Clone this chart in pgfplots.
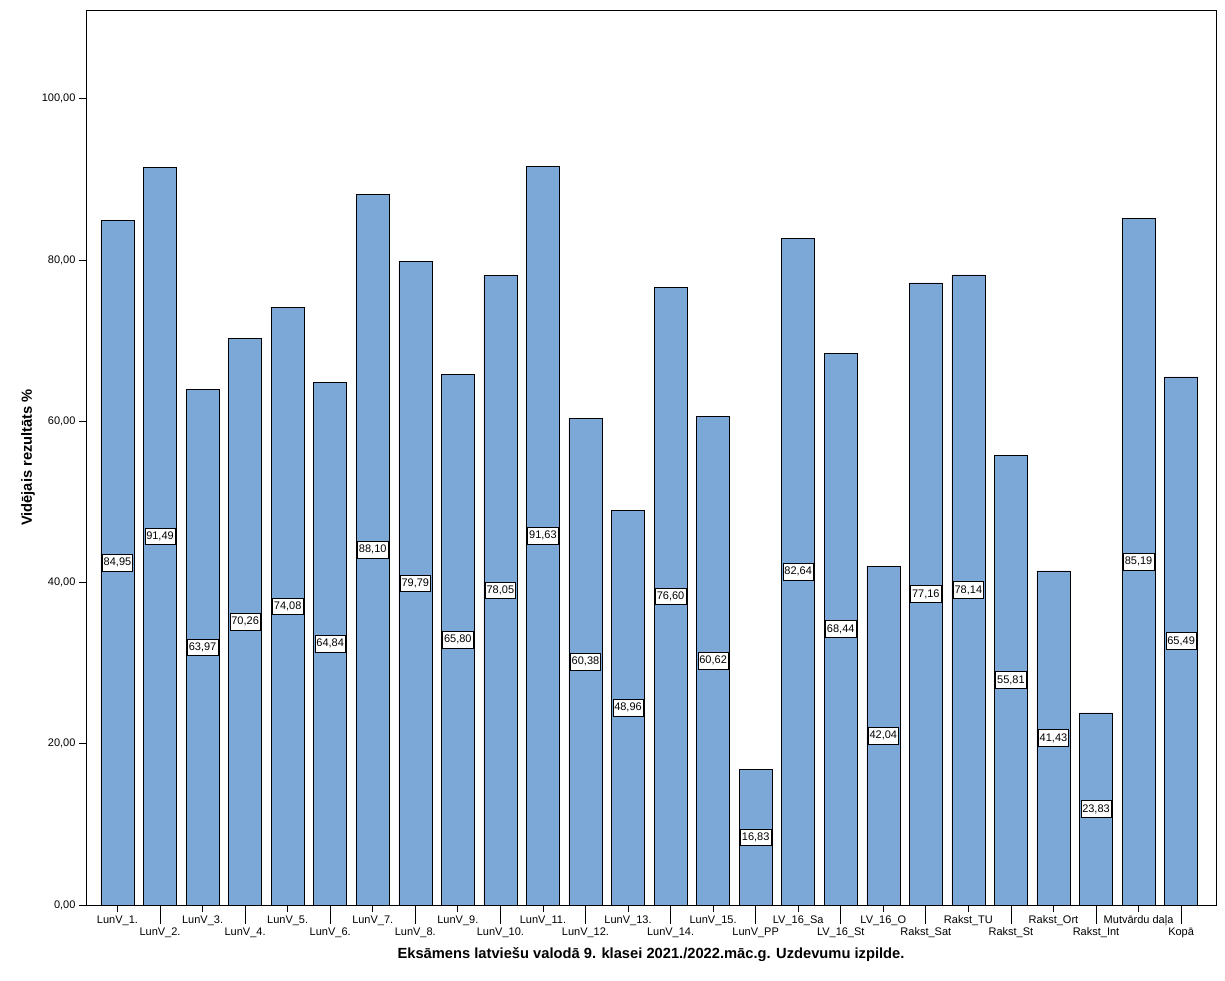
\documentclass[border=0pt]{standalone}
\usepackage{pgfplots}
\pgfplotsset{compat=1.18}
\usepackage{fontspec}
\setmainfont{Liberation Sans}
\definecolor{barblue}{RGB}{123,168,214}

\begin{document}
\begin{tikzpicture}
\begin{axis}[
    scale only axis,
    width=1130pt, height=895pt,
    xmin=-0.74, xmax=25.82,
    ymin=0, ymax=111,
    ybar, bar width=33pt, bar shift=0pt,
    axis line style={line width=0.7pt},
    tick align=outside,
    xtick pos=bottom, ytick pos=left,
    major tick style={line width=0.7pt, black},
    ytick={0,20,...,100},
    major tick length=7pt,
    xtick={0,2,...,24},
    xticklabels={LunV\_1., LunV\_3., LunV\_5., LunV\_7., LunV\_9., LunV\_11., LunV\_13., LunV\_15., LV\_16\_Sa, LV\_16\_O, Rakst\_TU, Rakst\_Ort, Mutvārdu daļa},
    extra x ticks={1,3,...,25},
    extra x tick labels={LunV\_2., LunV\_4., LunV\_6., LunV\_8., LunV\_10., LunV\_12., LunV\_14., LunV\_PP, LV\_16\_St, Rakst\_Sat, Rakst\_St, Rakst\_Int, Kopā},
    extra x tick style={major tick length=19pt},
    tick label style={font=\fontsize{11}{13}\selectfont},
    /pgf/number format/.cd, fixed, fixed zerofill, precision=2, use comma, assume math mode=true,
    /pgfplots/.cd,
    ylabel={Vidējais rezultāts \%},
    ylabel style={font=\bfseries\fontsize{14.7}{16}\selectfont, at={(axis description cs:-0.0513,0.5)}, anchor=center},
    xlabel={Eksāmens latviešu valodā 9. klasei 2021./2022.māc.g. Uzdevumu izpilde.},
    xlabel style={font=\bfseries\fontsize{14.7}{16}\selectfont, at={(axis description cs:0.5,-0.0559)}, anchor=center},
    nodes near coords={\pgfmathprintnumber{\pgfplotspointmeta}},
    visualization depends on={y \as \rawy},
    every node near coord/.append style={anchor=center, fill=white, draw=black, line width=0.5pt,
        inner xsep=1.5pt, inner ysep=3.8pt, font=\fontsize{11}{12}\selectfont,
        shift={(axis direction cs:0,-\rawy/2)}},
]
\addplot[fill=barblue, draw=black, line width=0.6pt] coordinates {
    (0,84.95) (1,91.49) (2,63.97) (3,70.26) (4,74.08) (5,64.84) (6,88.10)
    (7,79.79) (8,65.80) (9,78.05) (10,91.63) (11,60.38) (12,48.96) (13,76.60)
    (14,60.62) (15,16.83) (16,82.64) (17,68.44) (18,42.04) (19,77.16) (20,78.14)
    (21,55.81) (22,41.43) (23,23.83) (24,85.19) (25,65.49)
};
\end{axis}
\pgfresetboundingbox
\path ([shift={(-86pt,-75pt)}]current axis.south west) rectangle ([shift={(9pt,10pt)}]current axis.north east);
\end{tikzpicture}
\end{document}
